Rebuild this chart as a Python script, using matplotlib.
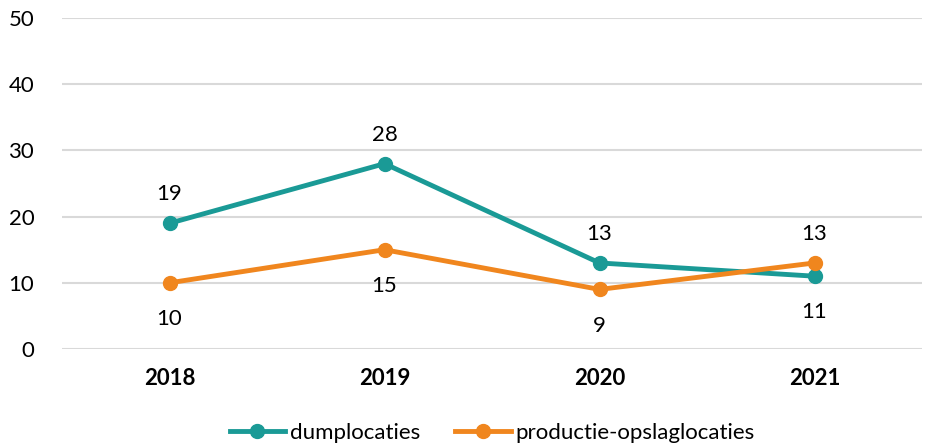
import matplotlib.pyplot as plt

plt.rcParams['font.family'] = ['Lato', 'DejaVu Sans']

years = ["2018", "2019", "2020", "2021"]
dump = [19, 28, 13, 11]
productie = [10, 15, 9, 13]
# label position per point: +1 above, -1 below
dump_pos = [1, 1, 1, -1]
prod_pos = [-1, -1, -1, 1]

teal = "#1a9a96"
orange = "#f0861e"

fig = plt.figure(figsize=(9.26, 4.46), dpi=100)
ax = fig.add_axes([0.067, 0.2175, 0.9287, 0.742])

x = range(len(years))
ax.plot(x, dump, color=teal, lw=3.5, marker="o", ms=10, label="dumplocaties")
ax.plot(x, productie, color=orange, lw=3.5, marker="o", ms=10, label="productie-opslaglocaties")

def offset(p):
    return 21 if p > 0 else -26

for xi, v, p in zip(x, dump, dump_pos):
    ax.annotate(str(v), (xi, v), xytext=(0, offset(p)), textcoords="offset points",
                ha="center", va="center", fontsize=16)
for xi, v, p in zip(x, productie, prod_pos):
    ax.annotate(str(v), (xi, v), xytext=(0, offset(p)), textcoords="offset points",
                ha="center", va="center", fontsize=16)

ax.set_xlim(-0.5, 3.5)
ax.set_ylim(0, 50)
ax.set_yticks(range(0, 51, 10))
ax.set_xticks(list(x))
ax.set_xticklabels(years, fontweight="bold")
ax.tick_params(axis="both", length=0, labelsize=16)
ax.tick_params(axis="x", pad=14)
ax.tick_params(axis="y", pad=20)
ax.grid(axis="y", color="#d9d9d9", lw=1.5)
ax.set_axisbelow(True)
for s in ax.spines.values():
    s.set_visible(False)

ax.legend(loc="lower center", bbox_to_anchor=(0.5, -0.345), ncol=2, frameon=False,
          fontsize=16, handlelength=2.5, columnspacing=1.6, handletextpad=0.2)

fig.savefig("out.png", dpi=100)
